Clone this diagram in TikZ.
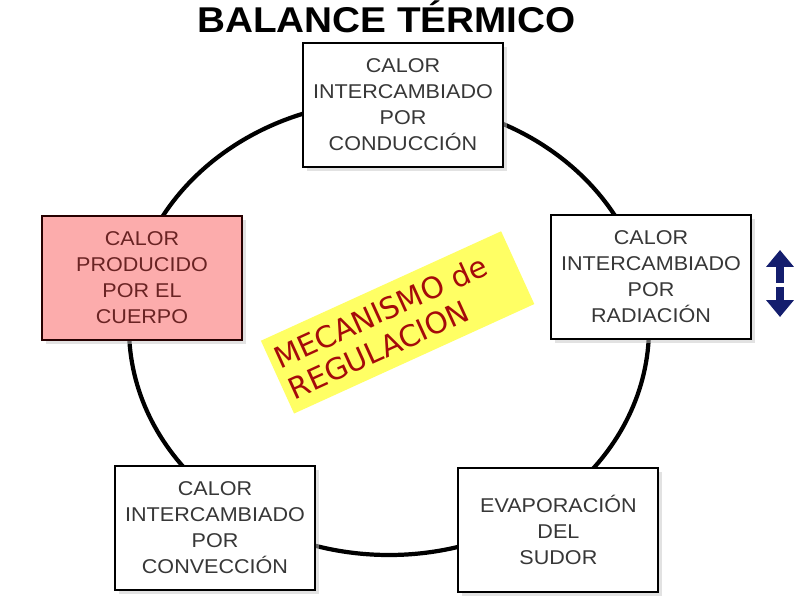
\documentclass[tikz,border=0pt]{standalone}
\usepackage{fontspec}
\setmainfont{Liberation Sans}[FakeStretch=1.08]
\newfontfamily\signfont{DejaVu Sans}
\usetikzlibrary{shadows,arrows.meta}
\definecolor{boxtext}{RGB}{55,55,55}
\definecolor{pinkfill}{RGB}{252,172,172}
\definecolor{pinktext}{RGB}{105,35,35}
\definecolor{signyellow}{RGB}{255,255,100}
\definecolor{signred}{RGB}{165,10,10}
\definecolor{arrowblue}{RGB}{20,30,110}

\begin{document}
\begin{tikzpicture}[
		heatbox/.style={draw=black, line width=1.5pt, fill=white, text=boxtext,
			minimum width=5cm, minimum height=3.1cm, inner sep=0pt, align=center,
			font=\fontsize{14.2}{18.5}\selectfont,
			drop shadow={shadow xshift=0.1cm, shadow yshift=-0.1cm, fill=black!22}},
		signbox/.style={fill=signyellow, text=signred, rotate=24.5,
			minimum width=6.6cm, minimum height=2cm, inner xsep=0.15cm,
			text width=6.3cm, align=left,
			font=\signfont\fontsize{21}{24}\selectfont},
		updown/.style={arrowblue, line width=6pt, -{Triangle[width=19pt,length=12pt]}}
	]
			\useasboundingbox (0,0) rectangle (20,15);
			\fill[white] (0,0) rectangle (20,15);
			% Ring behind the boxes
			\coordinate (ring) at (9.725,6.8);
			\draw[line width=3pt] (ring) ellipse [x radius=6.5cm, y radius=5.675cm];
			% Title
			\node[anchor=base, font=\bfseries\fontsize{25.5}{30}\selectfont] (title) at (9.66,14.175) {BALANCE TÉRMICO};
			% Boxes
			\node[heatbox] (conduccion) at (10.075,12.375) {CALOR\\INTERCAMBIADO\\POR\\CONDUCCIÓN};
			\node[heatbox, fill=pinkfill, text=pinktext, draw=black!85!red] (cuerpo) at (3.55,8.05) {CALOR\\PRODUCIDO\\POR EL\\CUERPO};
			\node[heatbox] (radiacion) at (16.275,8.075) {CALOR\\INTERCAMBIADO\\POR\\RADIACIÓN};
			\node[heatbox] (conveccion) at (5.375,1.8) {CALOR\\INTERCAMBIADO\\POR\\CONVECCIÓN};
			\node[heatbox] (sudor) at (13.96,1.76) {EVAPORACIÓN\\DEL\\SUDOR};
			% Regulation sign
			\node[signbox] (regulacion) at (9.94,6.94) {MECANISMO de\\REGULACION};
			% Up and down arrows
			\coordinate (upfoot) at (19.5,7.925);
			\coordinate (uptip) at (19.5,8.75);
			\coordinate (downfoot) at (19.5,7.825);
			\coordinate (downtip) at (19.5,7.075);
			\draw[updown] (upfoot) -- (uptip);
			\draw[updown] (downfoot) -- (downtip);
		\end{tikzpicture}
\end{document}
